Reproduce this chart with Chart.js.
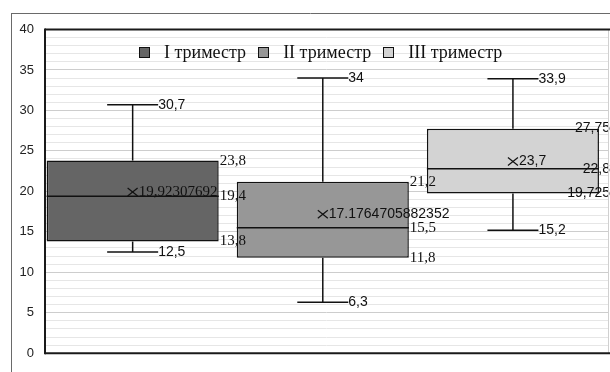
<!DOCTYPE html>
<html>
<head>
<meta charset="utf-8">
<title>Триместры</title>
<script src="https://cdn.jsdelivr.net/npm/chart.js@4.4.0/dist/chart.umd.min.js"></script>
<style>
	body { margin: 0; background: #fff; }
	#wrap { position: relative; width: 610px; height: 372px; }
	#legend { position: absolute; left: 139px; top: 42px; font: 18px "Liberation Serif", serif; color: #111; white-space: nowrap; line-height: 20px; }
	#legend .item { display: inline-block; margin-right: 12px; }
	#legend i { display: inline-block; width: 9px; height: 9px; border: 1px solid #111; margin-right: 14px; vertical-align: 0px; }
</style>
</head>
<body>
<div id="wrap">
	<canvas id="myChart" width="610" height="372"></canvas>
	<div id="legend"></div>
</div>
<script>
// dane z wykresu
const series = ['I триместр', 'II триместр', 'III триместр'];
const mins = [12.5, 6.3, 15.2];
const q1s = [13.8, 11.8, 19.725];
const medians = [19.4, 15.5, 22.8];
const q3s = [23.8, 21.2, 27.75];
const maxs = [30.7, 34, 33.9];
const means = [19.92307692, 17.1764705882352, 23.7];
const meanLabels = ['19,92307692', '17.1764705882352', '23,7'];
const yTicks = [0, 5, 10, 15, 20, 25, 30, 35, 40];

// style
const fills = ['#656565', '#979797', '#d3d3d3'];
const serifBox = [true, true, false];
const serifMean = [true, false, false];
const SANS = '14px "Liberation Sans", sans-serif';
const SERIF = '15px "Liberation Serif", serif';

const fmt = v => String(v).replace('.', ',');

function text (chart, str, x, y, font) {
	const ctx = chart.ctx;
	ctx.font = font;
	ctx.textBaseline = 'middle';
	ctx.textAlign = 'left';
	const w = ctx.measureText(str).width;
	if (x + w > chart.width) {
		ctx.textAlign = 'right';
		x = chart.width;
	}
	ctx.fillText(str, x, y);
}

function line (ctx, x1, y1, x2, y2) {
	ctx.beginPath();
	ctx.moveTo(x1, y1);
	ctx.lineTo(x2, y2);
	ctx.stroke();
}

const boxPlot = {
	id: 'boxPlot',
	beforeDraw (chart) {
		const ctx = chart.ctx;
		ctx.save();
		ctx.strokeStyle = '#6a6a6a';
		ctx.lineWidth = 1;
		line(ctx, 11.5, 13, 11.5, chart.height);
		line(ctx, 11, 13.5, chart.width, 13.5);
		ctx.restore();
	},
	afterDatasetsDraw (chart) {
		const ctx = chart.ctx;
		const y = chart.scales.y;
		ctx.save();
		ctx.strokeStyle = '#111';
		ctx.fillStyle = '#111';
		ctx.lineWidth = 1.5;
		chart.data.datasets.forEach((ds, i) => {
			const bar = chart.getDatasetMeta(i).data[0];
			const cx = bar.x;
			const left = bar.x - bar.width / 2;
			const right = bar.x + bar.width / 2;
			const cap = 25.5;
			// wąsy
			line(ctx, cx, y.getPixelForValue(q3s[i]), cx, y.getPixelForValue(maxs[i]));
			line(ctx, cx, y.getPixelForValue(q1s[i]), cx, y.getPixelForValue(mins[i]));
			line(ctx, cx - cap, y.getPixelForValue(maxs[i]), cx + cap, y.getPixelForValue(maxs[i]));
			line(ctx, cx - cap, y.getPixelForValue(mins[i]), cx + cap, y.getPixelForValue(mins[i]));
			// mediana
			line(ctx, left, y.getPixelForValue(medians[i]), right, y.getPixelForValue(medians[i]));
			// średnia
			const my = y.getPixelForValue(means[i]);
			ctx.lineWidth = 1.2;
			line(ctx, cx - 5, my - 4, cx + 5, my + 4);
			line(ctx, cx - 5, my + 4, cx + 5, my - 4);
			ctx.lineWidth = 1.5;
			text(chart, meanLabels[i], cx + 6, my, serifMean[i] ? SERIF : SANS);
			// etykiety
			text(chart, fmt(maxs[i]), cx + cap, y.getPixelForValue(maxs[i]), SANS);
			text(chart, fmt(mins[i]), cx + cap, y.getPixelForValue(mins[i]), SANS);
			const bf = serifBox[i] ? SERIF : SANS;
			text(chart, fmt(q3s[i]), right + 1, y.getPixelForValue(q3s[i]), bf);
			text(chart, fmt(medians[i]), right + 1, y.getPixelForValue(medians[i]), bf);
			text(chart, fmt(q1s[i]), right + 1, y.getPixelForValue(q1s[i]), bf);
		});
		ctx.restore();
	},
	afterDraw (chart) {
		const ctx = chart.ctx;
		const a = chart.chartArea;
		ctx.save();
		ctx.strokeStyle = '#d0d0d0';
		ctx.lineWidth = 1;
		line(ctx, a.right + 0.5, a.top, a.right + 0.5, a.bottom);
		ctx.strokeStyle = '#1a1a1a';
		ctx.lineWidth = 2;
		line(ctx, a.left, a.top, chart.width, a.top);
		line(ctx, a.left, a.top - 1, a.left, a.bottom + 1);
		line(ctx, a.left, a.bottom, chart.width, a.bottom);
		ctx.restore();
	}
};

const ctx = document.getElementById('myChart').getContext('2d');
const chart = new Chart(ctx, {
	type: 'bar',
	data: {
		datasets: series.map((name, i) => ({
			label: name,
			data: [{x: i + 1, y: [q1s[i], q3s[i]]}],
			backgroundColor: fills[i],
			borderColor: '#111',
			borderWidth: 1.5,
			borderSkipped: false,
			grouped: false,
			categoryPercentage: 1,
			barPercentage: 0.905
		}))
	},
	options: {
		responsive: false,
		animation: false,
		layout: { padding: { left: 0, top: 29.5, right: 2, bottom: 12.5 } },
		plugins: {
			legend: { display: false },
			tooltip: { enabled: false }
		},
		scales: {
			x: {
				type: 'linear',
				display: false,
				offset: false,
				grid: { offset: false },
				min: 0.539,
				max: 3.5,
				afterBuildTicks: s => { s.ticks = [1, 2, 3].map(v => ({value: v})); }
			},
			y: {
				min: 0,
				max: 40,
				afterFit: s => { s.width = 45; },
				border: { display: false },
				grid: {
					drawTicks: false,
					color: c => yTicks.includes(c.tick.value) ? '#cdcdcd' : '#e6e6e6'
				},
				ticks: {
					stepSize: 1,
					autoSkip: false,
					padding: 11,
					color: '#222',
					font: { family: '"Liberation Sans", sans-serif', size: 13 },
					callback: v => yTicks.includes(v) ? v : ''
				}
			}
		}
	},
	plugins: [boxPlot]
});

// legenda
const legend = document.getElementById('legend');
chart.data.datasets.forEach(ds => {
	const item = document.createElement('span');
	item.className = 'item';
	const sq = document.createElement('i');
	sq.style.background = ds.backgroundColor;
	item.appendChild(sq);
	item.appendChild(document.createTextNode(ds.label));
	legend.appendChild(item);
});
</script>
</body>
</html>
